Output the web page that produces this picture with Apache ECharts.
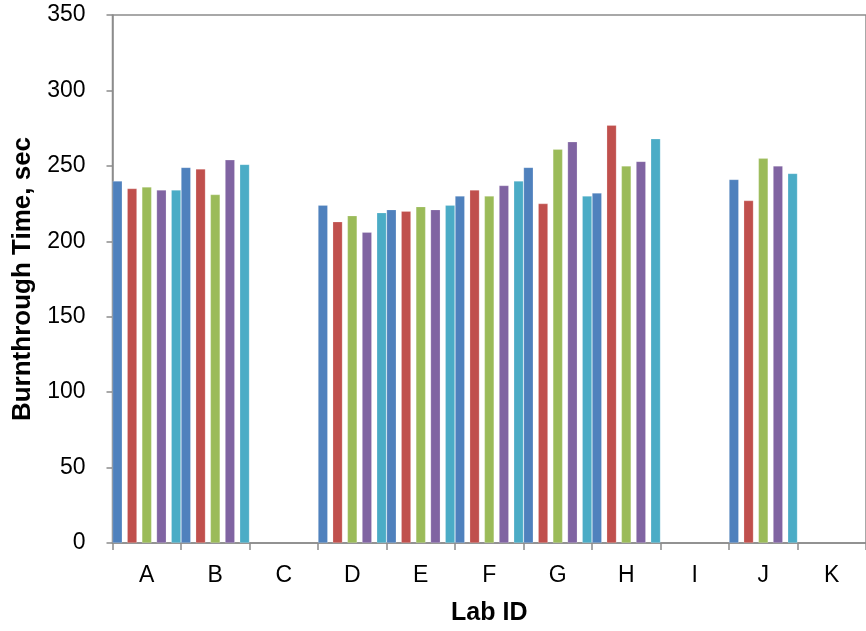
<!DOCTYPE html>
<html>
<head>
<meta charset="utf-8">
<script src="https://cdn.jsdelivr.net/npm/echarts@6/dist/echarts.min.js"></script>
<style>
html,body{margin:0;padding:0;background:#fff;}
#chart{width:866px;height:631px;}
</style>
</head>
<body>
<div id="chart"></div>
<script>
const categories = ['A','B','C','D','E','F','G','H','I','J','K'];
const run1 = [240, 249, null, 224, 221, 230, 249, 232, null, 241, null];
const run2 = [235, 248, null, 213, 220, 234, 225, 277, null, 227, null];
const run3 = [236, 231, null, 217, 223, 230, 261, 250, null, 255, null];
const run4 = [234, 254, null, 206, 221, 237, 266, 253, null, 250, null];
const run5 = [234, 251, null, 219, 224, 240, 230, 268, null, 245, null];
const seriesNames = ['Run 1','Run 2','Run 3','Run 4','Run 5'];
const seriesData = [run1, run2, run3, run4, run5];
const colors = ['#4F81BD','#C0504D','#9BBB59','#8064A2','#4BACC6'];

const chart = echarts.init(document.getElementById('chart'), null, {renderer:'canvas'});
const axisGray = '#8C8C8C';
const font = '"Liberation Sans", Arial, sans-serif';

chart.setOption({
  animation: false,
  color: colors,
  grid: {
    left: 112.5, top: 15, width: 757, height: 531,
    show: true, borderColor: axisGray, borderWidth: 1.5, backgroundColor: 'transparent'
  },
  xAxis: {
    type: 'category',
    data: categories,
    name: 'Lab ID',
    nameLocation: 'middle',
    nameGap: 58,
    nameTextStyle: {fontFamily: font, fontSize: 25, fontWeight: 'bold', color: '#000'},
    axisLine: {lineStyle: {color: axisGray, width: 1.5}},
    axisTick: {show: true, length: 7, lineStyle: {color: axisGray, width: 1.5}},
    axisLabel: {margin: 21, fontFamily: font, fontSize: 23, color: '#000'},
    splitLine: {show: false}
  },
  yAxis: {
    type: 'value',
    min: 0, max: 350, interval: 50,
    name: 'Burnthrough Time, sec',
    nameLocation: 'middle',
    nameGap: 75,
    nameTextStyle: {fontFamily: font, fontSize: 26, fontWeight: 'bold', color: '#000'},
    axisLine: {show: true, lineStyle: {color: axisGray, width: 1.5}},
    axisTick: {show: true, length: 6, lineStyle: {color: axisGray, width: 1.5}},
    axisLabel: {margin: 27, fontFamily: font, fontSize: 23, color: '#000'},
    splitLine: {show: false}
  },
  series: seriesData.map((d, i) => ({
    name: seriesNames[i],
    type: 'bar',
    data: d,
    barCategoryGap: '0%',
    barGap: '50%',
    itemStyle: {color: colors[i], borderColor: 'rgba(255,255,255,0.35)', borderWidth: 0.6}
  }))
});
</script>
</body>
</html>
